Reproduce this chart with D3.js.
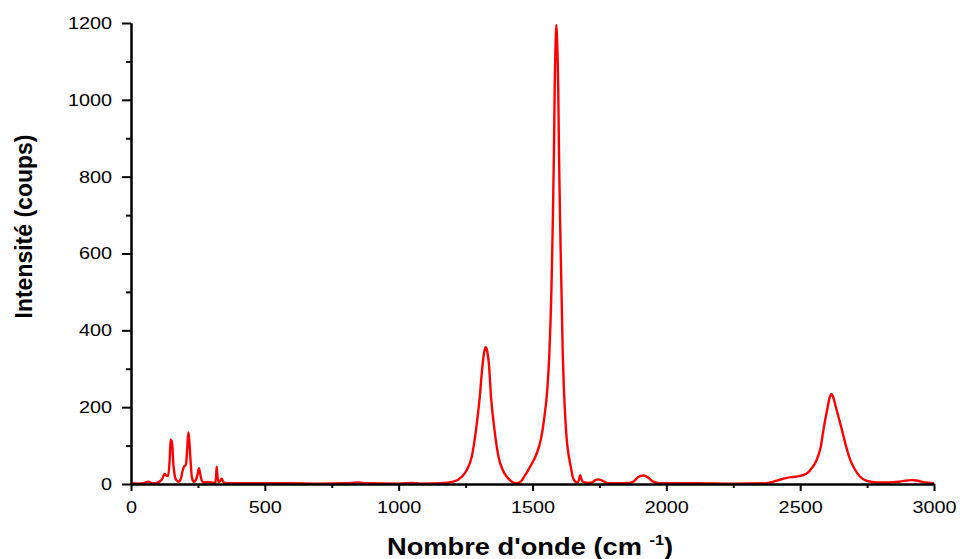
<!DOCTYPE html>
<html>
<head>
<meta charset="utf-8">
<script src="https://cdn.jsdelivr.net/npm/d3@7"></script>
<style>
  body { margin: 0; background: #fff; }
  text { font-family: "Liberation Sans", Arial, sans-serif; }
</style>
</head>
<body>
<div id="chart"></div>
<script>
// spectrum (wavenumber, counts)
var wavenumbers = [0, 30, 50, 65, 80, 96, 110, 118, 125, 132, 139, 145, 148, 151, 153, 156, 158, 161, 164, 170,
    177, 183, 187, 193, 198, 205, 210, 214, 217, 220, 224, 227, 231, 235, 245, 250, 254, 258, 262, 266,
    270, 285, 300, 314, 318, 320, 322, 326, 333, 339, 343, 348, 380, 450, 600, 700, 800, 849, 880, 1000,
    1050, 1080, 1155, 1204, 1236, 1254, 1273, 1289, 1303, 1314, 1320, 1325, 1331, 1337, 1345, 1358, 1373, 1389, 1404, 1423,
    1439, 1454, 1469, 1491, 1516, 1531, 1543, 1556, 1563, 1571, 1576, 1580, 1583, 1587, 1589, 1591, 1596, 1599, 1603, 1608,
    1613, 1617, 1623, 1628, 1634, 1643, 1650, 1660, 1669, 1674, 1678, 1683, 1690, 1710, 1722, 1735, 1746, 1760, 1778, 1800,
    1860, 1876, 1895, 1914, 1930, 1951, 1975, 2100, 2250, 2375, 2388, 2413, 2450, 2480, 2512, 2530, 2543, 2562, 2577, 2587,
    2603, 2610, 2617, 2624, 2633, 2656, 2672, 2687, 2702, 2724, 2749, 2787, 2830, 2870, 2900, 2917, 2935, 2960, 2985, 3000]
var counts = [2, 1, 3, 6, 2, 3, 8, 15, 26, 22, 21, 70, 116, 108, 113, 80, 54, 35, 19, 10,
    6, 9, 15, 35, 45, 50, 90, 134, 120, 88, 45, 19, 9, 6, 15, 30, 41, 28, 15, 7,
    4, 5, 4, 3, 20, 45, 30, 5, 8, 14, 8, 3, 2, 2, 2, 1, 2, 4, 2, 1,
    3, 1, 2, 6, 19, 36, 71, 141, 227, 314, 345, 356, 345, 314, 227, 141, 71, 36, 19, 6,
    2, 5, 19, 45, 80, 115, 167, 253, 340, 514, 688, 861, 1035, 1160, 1195, 1170, 1035, 861, 688, 514,
    340, 253, 167, 115, 80, 45, 19, 6, 4, 12, 23, 12, 5, 3, 4, 10, 12, 9, 3, 2,
    3, 6, 18, 22, 18, 6, 2, 2, 1, 2, 4, 9, 16, 19, 23, 30, 41, 63, 97, 141,
    201, 225, 234, 225, 201, 141, 97, 63, 41, 19, 8, 4, 4, 6, 9, 10, 9, 5, 3, 2]

var xTicks = [0, 500, 1000, 1500, 2000, 2500, 3000]
var xMinor = [250, 750, 1250, 1750, 2250, 2750]
var yTicks = [0, 200, 400, 600, 800, 1000, 1200]
var yMinor = [100, 300, 500, 700, 900, 1100]

const width = 960, height = 559
const plot = { left: 131, right: 934, top: 23, bottom: 484 }

var svg = d3.select("#chart")
    .append("svg")
        .attr("width", width)
        .attr("height", height)

const x = d3.scaleLinear().domain([0, 3000]).range([plot.left, plot.right])
const y = d3.scaleLinear().domain([0, 1200]).range([plot.bottom, plot.top])

// curve first, axes over it
const data = wavenumbers.map((w, i) => [w, counts[i]])
const line = d3.line().x(d => x(d[0])).y(d => y(d[1])).curve(d3.curveMonotoneX)

svg.append("path")
    .datum(data)
    .attr("fill", "none")
    .attr("stroke", "#ff0000")
    .attr("stroke-width", 2.4)
    .attr("stroke-linejoin", "round")
    .attr("d", line)

function styleAxis(g) {
    g.select(".domain").attr("stroke", "#000").attr("stroke-width", 2)
    g.selectAll(".tick line").attr("stroke", "#000").attr("stroke-width", 2)
}

// minor ticks
svg.append("g")
    .attr("transform", `translate(0, ${plot.bottom})`)
    .call(d3.axisBottom(x).tickValues(xMinor).tickSize(4).tickSizeOuter(0).tickFormat(""))
    .call(styleAxis)
svg.append("g")
    .attr("transform", `translate(${plot.left}, 0)`)
    .call(d3.axisLeft(y).tickValues(yMinor).tickSize(5).tickSizeOuter(0).tickFormat(""))
    .call(styleAxis)

// major ticks
var xAxis = svg.append("g")
    .attr("transform", `translate(0, ${plot.bottom})`)
    .call(d3.axisBottom(x).tickValues(xTicks).tickSize(7).tickSizeOuter(0).tickFormat(d3.format("d")))
    .call(styleAxis)
xAxis.selectAll(".tick text")
    .attr("y", 29)
    .attr("dy", 0)
    .attr("fill", "#000")
    .style("font-size", "16px")
    .attr("transform", "scale(1.24,1)")

var yAxis = svg.append("g")
    .attr("transform", `translate(${plot.left}, 0)`)
    .call(d3.axisLeft(y).tickValues(yTicks).tickSize(9).tickSizeOuter(0).tickFormat(d3.format("d")))
    .call(styleAxis)
yAxis.selectAll(".tick text")
    .attr("x", -19 / 1.24)
    .attr("dy", "0.34em")
    .attr("fill", "#000")
    .style("font-size", "16px")
    .attr("transform", "scale(1.24,1)")

// titles
var xt = svg.append("text")
    .attr("x", 530)
    .attr("y", 555)
    .attr("text-anchor", "middle")
    .attr("textLength", 286)
    .attr("lengthAdjust", "spacingAndGlyphs")
    .style("font-size", "23.5px")
    .style("font-weight", "bold")
xt.append("tspan").text("Nombre d'onde (cm ")
xt.append("tspan").attr("dy", -10).style("font-size", "14px").text("-1")
xt.append("tspan").attr("dy", 10).text(")")

svg.append("text")
    .attr("transform", "translate(31.5, 226.5) rotate(-90)")
    .attr("text-anchor", "middle")
    .style("font-size", "23px")
    .style("font-weight", "bold")
    .text("Intensité (coups)")
</script>
</body>
</html>
